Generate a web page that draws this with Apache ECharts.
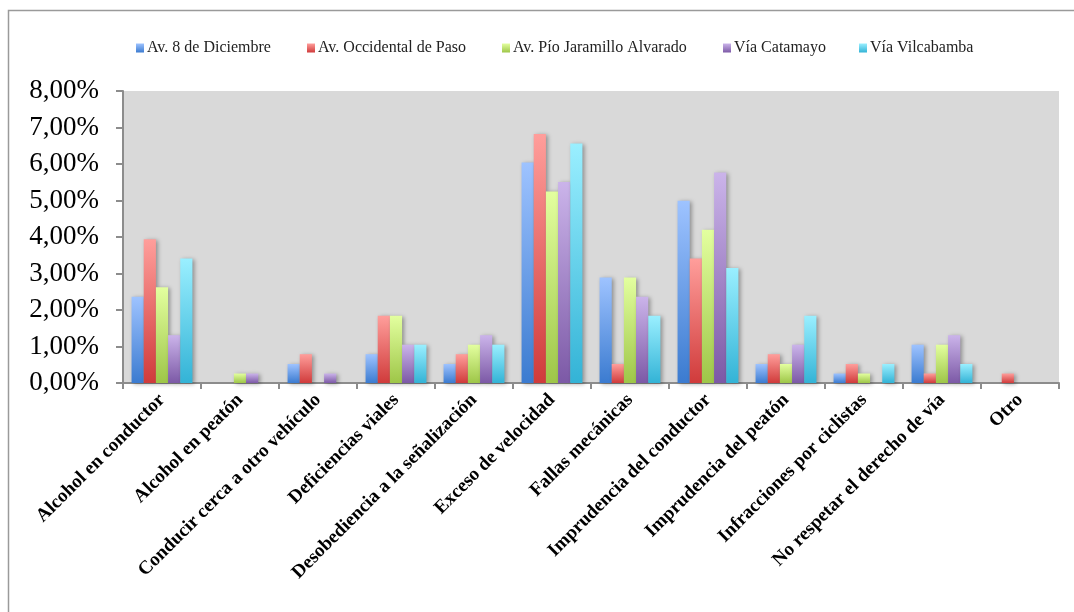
<!DOCTYPE html>
<html>
<head>
<meta charset="utf-8">
<script src="https://cdn.jsdelivr.net/npm/echarts@6/dist/echarts.min.js"></script>
<style>
  html, body { margin: 0; padding: 0; background: #ffffff; }
  #chart { width: 1074px; height: 612px; }
</style>
</head>
<body>
<div id="chart"></div>
<script>
// Causas de siniestros de tránsito por vía (porcentaje del total)
const categories = [
  'Alcohol en conductor',
  'Alcohol en peatón',
  'Conducir cerca a otro vehículo',
  'Deficiencias viales',
  'Desobediencia a la señalización',
  'Exceso de velocidad',
  'Fallas mecánicas',
  'Imprudencia del conductor',
  'Imprudencia del peatón',
  'Infracciones por ciclistas',
  'No respetar el derecho de vía',
  'Otro'
];

const seriesNames = [
  'Av. 8 de Diciembre',
  'Av. Occidental de Paso',
  'Av. Pío Jaramillo Alvarado',
  'Vía Catamayo',
  'Vía Vilcabamba'
];

const av8DeDiciembre      = [2.36, 0,    0.52, 0.79, 0.52, 6.04, 2.89, 4.99, 0.52, 0.26, 1.05, 0];
const avOccidentalDePaso  = [3.94, 0,    0.79, 1.84, 0.79, 6.82, 0.52, 3.41, 0.79, 0.52, 0.26, 0.26];
const avPioJaramillo      = [2.62, 0.26, 0,    1.84, 1.05, 5.25, 2.89, 4.20, 0.52, 0.26, 1.05, 0];
const viaCatamayo         = [1.31, 0.26, 0.26, 1.05, 1.31, 5.51, 2.36, 5.77, 1.05, 0,    1.31, 0];
const viaVilcabamba       = [3.41, 0,    0,    1.05, 1.05, 6.56, 1.84, 3.15, 1.84, 0.52, 0.52, 0];

const yTicks = [0, 1, 2, 3, 4, 5, 6, 7, 8];

const seriesData = [av8DeDiciembre, avOccidentalDePaso, avPioJaramillo, viaCatamayo, viaVilcabamba];

// light top -> darker bottom for each bar
const palette = [
  ['#9ec3ff', '#3b7bd0'],
  ['#ff9e9b', '#d03b3b'],
  ['#e3ff9f', '#9ec648'],
  ['#cbb4ea', '#7c59a6'],
  ['#9aefff', '#33b3d6']
];

// left edge of each legend entry
const legendLeft = [131, 302, 497, 718, 854];

function gradient(pair) {
  return new echarts.graphic.LinearGradient(0, 0, 0, 1, [
    { offset: 0, color: pair[0] },
    { offset: 1, color: pair[1] }
  ]);
}

function pct(v) {
  return v.toFixed(2).replace('.', ',') + '%';
}

const chart = echarts.init(document.getElementById('chart'), null, { renderer: 'canvas' });

const series = seriesNames.map((name, i) => ({
  name: name,
  type: 'bar',
  data: seriesData[i],
  barGap: '0%',
  barCategoryGap: '22%',
  itemStyle: {
    color: gradient(palette[i]),
    shadowColor: 'rgba(0,0,0,0.35)',
    shadowBlur: 4,
    shadowOffsetX: 2,
    shadowOffsetY: 1
  },
  emphasis: { disabled: true }
}));

const legends = seriesNames.map((name, i) => ({
  left: legendLeft[i],
  top: 35,
  itemWidth: 8,
  itemHeight: 9,
  itemGap: 4,
  icon: 'rect',
  textStyle: {
    fontFamily: 'Liberation Serif',
    fontSize: 16,
    color: '#222222',
    padding: [0, 0, 0, -2]
  },
  data: [name]
}));

chart.setOption({
  animation: false,
  backgroundColor: '#ffffff',
  graphic: [{
    type: 'rect',
    shape: { x: 8.5, y: 10.5, width: 1100, height: 700 },
    style: { fill: 'none', stroke: '#9a9a9a', lineWidth: 1.5 },
    silent: true,
    z: -1
  }],
  legend: legends,
  grid: {
    left: 123,
    right: 15,
    top: 91,
    bottom: 229,
    show: true,
    backgroundColor: '#d9d9d9',
    borderWidth: 0
  },
  xAxis: {
    type: 'category',
    data: categories,
    axisLine: { lineStyle: { color: '#8c8c8c', width: 2 } },
    axisTick: { show: true, length: 6, lineStyle: { color: '#8c8c8c', width: 2 } },
    axisLabel: {
      rotate: 45,
      interval: 0,
      margin: 14,
      fontFamily: 'Liberation Serif',
      fontWeight: 'bold',
      fontSize: 19,
      color: '#000000'
    }
  },
  yAxis: {
    type: 'value',
    min: yTicks[0],
    max: yTicks[yTicks.length - 1],
    interval: 1,
    splitLine: { show: false },
    axisLine: { show: true, lineStyle: { color: '#8c8c8c', width: 2 } },
    axisTick: { show: true, length: 7, lineStyle: { color: '#8c8c8c', width: 2 } },
    axisLabel: {
      margin: 24,
      fontFamily: 'Liberation Serif',
      fontSize: 27,
      color: '#000000',
      formatter: pct
    }
  },
  series: series
});
</script>
</body>
</html>
